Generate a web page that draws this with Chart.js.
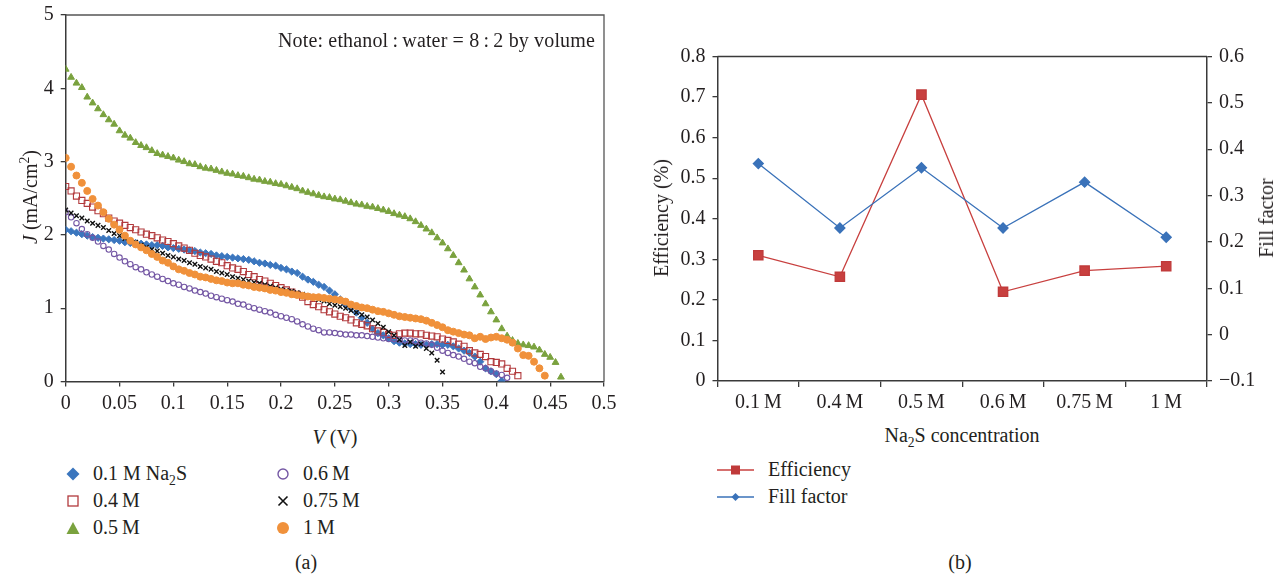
<!DOCTYPE html>
<html>
<head>
<meta charset="utf-8">
<title>J-V curves and efficiency vs Na2S concentration</title>
<script src="https://cdn.jsdelivr.net/npm/chart.js@4.4.1/dist/chart.umd.min.js"></script>
<style>
  body { margin:0; background:#fff; width:1282px; height:577px; position:relative; overflow:hidden;
         font-family:'Liberation Serif','DejaVu Serif',serif; color:#231f20; }
  canvas { position:absolute; top:0; }
  #jv { left:0; top:-4px; }
  #eff { left:640px; }
  .lbl { position:absolute; font-size:20px; white-space:nowrap; line-height:1; }
  .rot { transform:translate(-50%,-50%) rotate(-90deg); }
  .ctr { transform:translate(-50%,-50%); }
  sub, sup { font-size:0.68em; line-height:0; }
  .leg { position:absolute; font-size:20px; }
  .leg div { height:27px; display:flex; align-items:center; white-space:nowrap; }
</style>
</head>
<body>
<canvas id="jv" width="640" height="420"></canvas>
<canvas id="eff" width="642" height="420"></canvas>

<div class="lbl rot" style="left:30px;top:197px;"><i>J</i> (mA/cm<sup>2</sup>)</div>
<div class="lbl ctr" style="left:335px;top:437px;"><i>V</i> (V)</div>
<div class="lbl" style="right:687px;top:40px;transform:translateY(-50%);letter-spacing:0.15px;">Note: ethanol&#8201;:&#8201;water = 8&#8201;:&#8201;2 by volume</div>
<div class="lbl rot" style="left:661px;top:218px;">Efficiency (%)</div>
<div class="lbl rot" style="left:1266px;top:218px;">Fill factor</div>
<div class="lbl ctr" style="left:962px;top:435px;">Na<sub>2</sub>S concentration</div>
<div class="lbl ctr" style="left:306px;top:562px;">(a)</div>
<div class="lbl ctr" style="left:960px;top:562px;">(b)</div>

<div class="leg" id="legA1" style="left:65px;top:460px;"></div>
<div class="leg" id="legA2" style="left:275px;top:460px;"></div>
<div class="leg" id="legB" style="left:717px;top:456px;"></div>

<script>
// ---- panel (a): J-V data, one voltage list shared by every series
var V = [0, 0.005, 0.01, 0.015, 0.02, 0.025, 0.03, 0.035, 0.04, 0.045,
  0.05, 0.055, 0.06, 0.065, 0.07, 0.075, 0.08, 0.085, 0.09, 0.095,
  0.1, 0.105, 0.11, 0.115, 0.12, 0.125, 0.13, 0.135, 0.14, 0.145,
  0.15, 0.155, 0.16, 0.165, 0.17, 0.175, 0.18, 0.185, 0.19, 0.195,
  0.2, 0.205, 0.21, 0.215, 0.22, 0.225, 0.23, 0.235, 0.24, 0.245,
  0.25, 0.255, 0.26, 0.265, 0.27, 0.275, 0.28, 0.285, 0.29, 0.295,
  0.3, 0.305, 0.31, 0.315, 0.32, 0.325, 0.33, 0.335, 0.34, 0.345,
  0.35, 0.355, 0.36, 0.365, 0.37, 0.375, 0.38, 0.385, 0.39, 0.395,
  0.4, 0.405, 0.41, 0.415, 0.42, 0.425, 0.43, 0.435, 0.44, 0.445,
  0.45, 0.455, 0.46];

var J_01 = [2.07, 2.05, 2.03, 2.01, 1.99, 1.97, 1.96, 1.95, 1.94, 1.93,
  1.92, 1.90, 1.89, 1.89, 1.88, 1.87, 1.86, 1.86, 1.85, 1.83,
  1.82, 1.81, 1.80, 1.79, 1.78, 1.76, 1.75, 1.74, 1.72, 1.71,
  1.70, 1.69, 1.68, 1.67, 1.66, 1.64, 1.62, 1.61, 1.59, 1.58,
  1.55, 1.53, 1.50, 1.48, 1.43, 1.39, 1.36, 1.32, 1.29, 1.24,
  1.19, 1.12, 1.05, 1.00, 0.94, 0.87, 0.80, 0.72, 0.66, 0.63,
  0.59, 0.55, 0.53, 0.52, 0.51, 0.51, 0.50, 0.50, 0.51, 0.51,
  0.50, 0.50, 0.48, 0.45, 0.42, 0.39, 0.34, 0.27, 0.18, 0.14,
  0.10, 0.01];

var J_04 = [2.66, 2.60, 2.53, 2.47, 2.43, 2.38, 2.33, 2.29, 2.23, 2.19,
  2.16, 2.13, 2.10, 2.07, 2.04, 2.01, 1.99, 1.96, 1.93, 1.91,
  1.88, 1.85, 1.82, 1.79, 1.75, 1.72, 1.70, 1.67, 1.64, 1.62,
  1.58, 1.55, 1.53, 1.50, 1.46, 1.43, 1.39, 1.37, 1.34, 1.31,
  1.28, 1.25, 1.22, 1.19, 1.15, 1.09, 1.05, 1.02, 0.98, 0.95,
  0.92, 0.89, 0.87, 0.84, 0.80, 0.78, 0.76, 0.72, 0.69, 0.67,
  0.64, 0.63, 0.65, 0.66, 0.66, 0.65, 0.65, 0.63, 0.62, 0.61,
  0.58, 0.56, 0.54, 0.51, 0.48, 0.42, 0.39, 0.37, 0.34, 0.27,
  0.26, 0.24, 0.18, 0.14, 0.08];

var J_05 = [4.26, 4.15, 4.07, 4.01, 3.88, 3.80, 3.72, 3.64, 3.57, 3.51,
  3.42, 3.36, 3.32, 3.26, 3.22, 3.19, 3.15, 3.11, 3.09, 3.07,
  3.05, 3.02, 3.00, 2.97, 2.96, 2.93, 2.91, 2.90, 2.88, 2.86,
  2.84, 2.83, 2.81, 2.80, 2.78, 2.76, 2.75, 2.73, 2.72, 2.70,
  2.69, 2.67, 2.65, 2.63, 2.60, 2.58, 2.56, 2.54, 2.52, 2.51,
  2.49, 2.48, 2.46, 2.44, 2.42, 2.41, 2.39, 2.38, 2.36, 2.34,
  2.32, 2.29, 2.27, 2.25, 2.22, 2.18, 2.13, 2.08, 2.03, 1.96,
  1.89, 1.81, 1.72, 1.62, 1.52, 1.40, 1.29, 1.18, 1.06, 0.95,
  0.84, 0.72, 0.62, 0.56, 0.52, 0.50, 0.49, 0.47, 0.43, 0.37,
  0.33, 0.26, 0.06];

var J_06 = [2.31, 2.24, 2.16, 2.08, 2.01, 1.96, 1.91, 1.85, 1.80, 1.74,
  1.69, 1.64, 1.60, 1.56, 1.53, 1.49, 1.46, 1.43, 1.40, 1.37,
  1.34, 1.32, 1.29, 1.27, 1.24, 1.22, 1.20, 1.17, 1.15, 1.13,
  1.11, 1.09, 1.06, 1.05, 1.02, 1.00, 0.98, 0.96, 0.94, 0.91,
  0.89, 0.87, 0.85, 0.82, 0.78, 0.75, 0.72, 0.70, 0.67, 0.67,
  0.66, 0.65, 0.64, 0.64, 0.63, 0.63, 0.62, 0.61, 0.60, 0.59,
  0.58, 0.58, 0.57, 0.56, 0.56, 0.55, 0.53, 0.52, 0.50, 0.46,
  0.42, 0.39, 0.36, 0.34, 0.31, 0.27, 0.25, 0.20, 0.18, 0.14,
  0.11, 0.09, 0.05];

var J_075 = [2.34, 2.30, 2.26, 2.23, 2.19, 2.16, 2.13, 2.10, 2.06, 2.02,
  1.99, 1.95, 1.92, 1.90, 1.86, 1.83, 1.80, 1.78, 1.75, 1.72,
  1.70, 1.67, 1.65, 1.62, 1.60, 1.57, 1.55, 1.53, 1.50, 1.48,
  1.46, 1.43, 1.41, 1.39, 1.37, 1.35, 1.34, 1.32, 1.30, 1.28,
  1.26, 1.24, 1.23, 1.21, 1.19, 1.17, 1.15, 1.12, 1.10, 1.06,
  1.04, 1.02, 1.00, 0.97, 0.94, 0.91, 0.88, 0.84, 0.79, 0.74,
  0.68, 0.63, 0.57, 0.49, 0.54, 0.48, 0.51, 0.45, 0.39, 0.29,
  0.13];

var J_1 = [3.05, 2.93, 2.81, 2.71, 2.60, 2.49, 2.40, 2.31, 2.22, 2.14,
  2.07, 1.99, 1.92, 1.87, 1.83, 1.79, 1.74, 1.70, 1.65, 1.62,
  1.57, 1.53, 1.51, 1.48, 1.46, 1.43, 1.42, 1.40, 1.38, 1.37,
  1.35, 1.34, 1.34, 1.32, 1.31, 1.29, 1.28, 1.27, 1.25, 1.24,
  1.22, 1.21, 1.19, 1.18, 1.17, 1.16, 1.15, 1.15, 1.14, 1.13,
  1.12, 1.11, 1.09, 1.05, 1.03, 1.01, 1.00, 0.98, 0.96, 0.95,
  0.93, 0.91, 0.89, 0.88, 0.87, 0.86, 0.85, 0.83, 0.80, 0.77,
  0.74, 0.70, 0.68, 0.66, 0.64, 0.63, 0.59, 0.61, 0.58, 0.60,
  0.61, 0.59, 0.57, 0.53, 0.45, 0.36, 0.35, 0.27, 0.18, 0.08];

var jvLabels = ['0.1 M Na<sub>2</sub>S', '0.4&#8201;M', '0.5&#8201;M', '0.6&#8201;M', '0.75&#8201;M', '1&#8201;M'];
var jvSeries = [J_01, J_04, J_05, J_06, J_075, J_1];

// ---- panel (b)
var concLabels = ['0.1\u2009M', '0.4\u2009M', '0.5\u2009M', '0.6\u2009M', '0.75\u2009M', '1\u2009M'];
var efficiency = [0.31, 0.257, 0.706, 0.22, 0.272, 0.283];
var fillFactor = [0.369, 0.23, 0.36, 0.23, 0.329, 0.21];

var FONT = "'Liberation Serif', 'DejaVu Serif', serif";
var INK = '#231f20';
var AXIS = '#3a3a3a';

// marker look for each J-V series (same order as jvSeries)
var jvStyle = [
  { point: 'rectRot',  r: 3.6, fill: '#3b76be', line: '#3b76be', w: 1 },
  { point: 'rect',     r: 4.3, fill: 'rgba(255,255,255,0)', line: '#b23a3d', w: 1.1 },
  { point: 'triangle', r: 3.9, fill: '#7aa23e', line: '#7aa23e', w: 1 },
  { point: 'circle',   r: 2.7, fill: 'rgba(255,255,255,0)', line: '#7457a4', w: 1.1 },
  { point: 'crossRot', r: 3.2, fill: '#111', line: '#111', w: 1.4 },
  { point: 'circle',   r: 3.5, fill: '#f0913b', line: '#f0913b', w: 1 }
];

// box line on the open sides of a plot
var frameBox = {
  id: 'frameBox',
  afterDraw: function(chart, args, opts) {
    var a = chart.chartArea, ctx = chart.ctx;
    ctx.save();
    ctx.strokeStyle = opts.color || AXIS;
    ctx.lineWidth = opts.width || 1.3;
    ctx.beginPath();
    ctx.moveTo(a.left, a.top);
    ctx.lineTo(a.right, a.top);
    if (opts.right) ctx.lineTo(a.right, a.bottom);
    ctx.stroke();
    ctx.restore();
  }
};

function fmt(v) {
  var s = String(Number(v.toFixed(2)));
  return s.replace('-', '\u2212');
}

function axisTicks(step, pad, cb) {
  return { stepSize: step, padding: pad, color: INK, autoSkip: false, maxRotation: 0,
           font: { family: FONT, size: 20 }, callback: cb || fmt };
}
var axisGrid = { drawOnChartArea: false, tickLength: 5, color: AXIS, lineWidth: 1.3 };
var axisBorder = { color: AXIS, width: 1.5 };

// ---- chart (a)
var jvDatasets = [];
for (var i = 0; i < jvSeries.length; i++) {
  var s = jvStyle[i];
  jvDatasets.push({
    label: jvLabels[i],
    data: jvSeries[i].map(function(j, k) { return { x: V[k], y: j }; }),
    showLine: false,
    pointStyle: s.point,
    pointRadius: s.r,
    pointBackgroundColor: s.fill,
    pointBorderColor: s.line,
    pointBorderWidth: s.w,
    order: jvSeries.length - i   // later series on top, like the original
  });
}

new Chart(document.getElementById('jv').getContext('2d'), {
  type: 'scatter',
  data: { datasets: jvDatasets },
  options: {
    responsive: false,
    animation: false,
    layout: { padding: { left: 0, top: 18, right: 36, bottom: 0 } },
    plugins: { legend: { display: false }, tooltip: { enabled: false },
               frameBox: { right: true, color: '#555', width: 1.3 } },
    scales: {
      x: { type: 'linear', min: 0, max: 0.5, ticks: axisTicks(0.05, 5), grid: axisGrid, border: axisBorder,
           afterFit: function(sc) { sc.height = 34.5; } },
      y: { type: 'linear', min: 0, max: 5, ticks: axisTicks(1, 7), grid: axisGrid, border: axisBorder,
           afterFit: function(sc) { sc.width = 65.7; } }
    }
  },
  plugins: [frameBox]
});

// ---- chart (b)
new Chart(document.getElementById('eff').getContext('2d'), {
  type: 'line',
  data: {
    labels: concLabels,
    datasets: [
      { label: 'Efficiency', data: efficiency, yAxisID: 'y',
        borderColor: '#c8403f', backgroundColor: '#c8403f', borderWidth: 1.3,
        pointStyle: 'rect', pointRadius: 6.6, pointBorderColor: '#c03a3a', order: 1 },
      { label: 'Fill factor', data: fillFactor, yAxisID: 'y1',
        borderColor: '#3a72b9', backgroundColor: '#3a72b9', borderWidth: 1.3,
        pointStyle: 'rectRot', pointRadius: 5, order: 0 }
    ]
  },
  options: {
    responsive: false,
    animation: false,
    layout: { padding: { left: 0, top: 56.5, right: 0, bottom: 0 } },
    plugins: { legend: { display: false }, tooltip: { enabled: false },
               frameBox: { right: false, color: AXIS, width: 1.3 } },
    scales: {
      x: { offset: true, ticks: axisTicks(1, 4, function(v, k) { return concLabels[k]; }),
           grid: { offset: true, drawOnChartArea: false, tickLength: 6, color: AXIS, lineWidth: 1.3 },
           border: axisBorder,
           afterFit: function(sc) { sc.height = 39; } },
      y: { position: 'left', min: 0, max: 0.8, ticks: axisTicks(0.1, 7), grid: axisGrid, border: axisBorder,
           afterFit: function(sc) { sc.width = 77.5; } },
      y1: { position: 'right', min: -0.1, max: 0.6, ticks: axisTicks(0.1, 7), grid: axisGrid, border: axisBorder,
            afterFit: function(sc) { sc.width = 75; } }
    }
  },
  plugins: [frameBox]
});

// ---- legends, built from the same labels and styles
function marker(st) {
  var c = st.line, f = st.fill;
  var body;
  if (st.point === 'rectRot') body = '<polygon points="8,1.5 14.5,8 8,14.5 1.5,8" fill="' + c + '"/>';
  else if (st.point === 'rect') body = '<rect x="3" y="3" width="10" height="10" fill="none" stroke="' + c + '" stroke-width="1.3"/>';
  else if (st.point === 'triangle') body = '<polygon points="8,2 14.5,14 1.5,14" fill="' + c + '"/>';
  else if (st.point === 'crossRot') body = '<path d="M3.5,3.5L12.5,12.5M12.5,3.5L3.5,12.5" stroke="' + c + '" stroke-width="1.6"/>';
  else if (f.indexOf('rgba') === 0) body = '<circle cx="8" cy="8" r="5" fill="none" stroke="' + c + '" stroke-width="1.4"/>';
  else body = '<circle cx="8" cy="8" r="6" fill="' + c + '"/>';
  return '<svg width="16" height="16" style="margin-right:12px">' + body + '</svg>';
}
var colA = '', colB = '';
for (var n = 0; n < jvLabels.length; n++) {
  var row = '<div>' + marker(jvStyle[n]) + '<span>' + jvLabels[n] + '</span></div>';
  if (n < 3) colA += row; else colB += row;
}
document.getElementById('legA1').innerHTML = colA;
document.getElementById('legA2').innerHTML = colB;

var effLegend = [
  { text: 'Efficiency', color: '#c8403f', mark: '<rect x="14" y="3.5" width="9" height="9" fill="#c03a3a"/>' },
  { text: 'Fill factor', color: '#3a72b9', mark: '<polygon points="18.5,4 22.5,8 18.5,12 14.5,8" fill="#3a72b9"/>' }
];
document.getElementById('legB').innerHTML = effLegend.map(function(e) {
  return '<div><svg width="37" height="16" style="margin-right:14px">' +
    '<line x1="0" y1="8" x2="37" y2="8" stroke="' + e.color + '" stroke-width="1.5"/>' + e.mark +
    '</svg><span>' + e.text + '</span></div>';
}).join('');
</script>
</body>
</html>
